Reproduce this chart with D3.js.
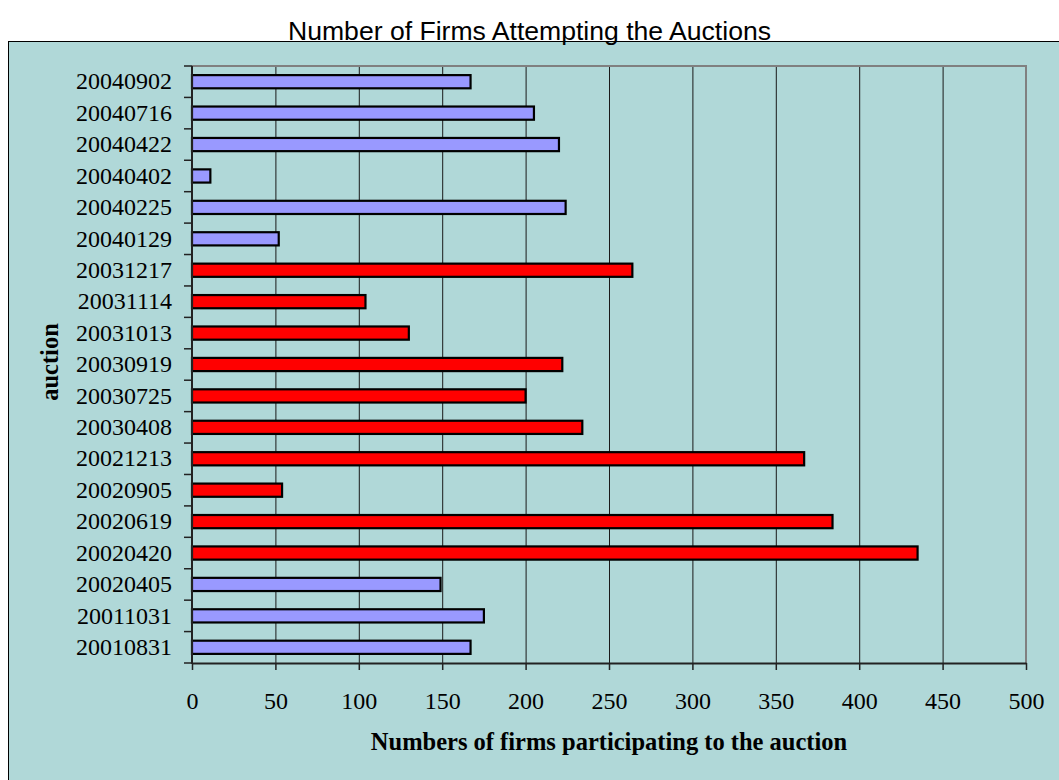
<!DOCTYPE html>
<html>
<head>
<meta charset="utf-8">
<script src="https://cdn.jsdelivr.net/npm/d3@7"></script>
<style>
  html, body { margin: 0; padding: 0; background: #ffffff; }
  svg { display: block; }
</style>
</head>
<body>
<svg id="chart" width="1059" height="780"></svg>
<script>
// Auction dates, listed bottom to top as they appear on the axis
const auctions = [
  "20010831", "20011031", "20020405", "20020420", "20020619", "20020905",
  "20021213", "20030408", "20030725", "20030919", "20031013", "20031114",
  "20031217", "20040129", "20040225", "20040402", "20040422", "20040716",
  "20040902"
];

// Number of firms taking part in each auction
const firms = [
  167, 175, 149, 435, 384, 54,
  367, 234, 200, 222, 130, 104,
  264, 52, 224, 11, 220, 205,
  167
];

// Auctions of the 2002-2003 period, shown in red
const redPeriod = [
  "20020420", "20020619", "20020905", "20021213", "20030408", "20030725",
  "20030919", "20031013", "20031114", "20031217"
];

const xTicks = [0, 50, 100, 150, 200, 250, 300, 350, 400, 450, 500];

const chartTitle = "Number of Firms Attempting the Auctions";
const xTitle = "Numbers of firms participating to the auction";
const yTitle = "auction";

const svg = d3.select("#chart");
const bg = "#b0d8d8";

// Chart area frame
svg.append("rect")
  .attr("x", 8.5).attr("y", 41.5)
  .attr("width", 1100).attr("height", 800)
  .attr("fill", bg)
  .attr("stroke", "#000").attr("stroke-width", 1);

// Title
svg.append("text")
  .attr("x", 529.5).attr("y", 40)
  .attr("text-anchor", "middle")
  .attr("font-family", "'Liberation Sans', Arial, sans-serif")
  .attr("font-size", 26)
  .attr("textLength", 483)
  .attr("lengthAdjust", "spacingAndGlyphs")
  .attr("fill", "#000")
  .text(chartTitle);

const plotLeft = 192, plotRight = 1026, plotTop = 66, plotBottom = 663;

const x = d3.scaleLinear().domain([0, 500]).range([plotLeft, plotRight]);
const y = d3.scaleBand()
  .domain(auctions.slice().reverse())
  .range([plotTop, plotBottom])
  .paddingInner(0.58)
  .paddingOuter(0.29);
const step = y.step();

// Vertical gridlines
svg.append("g")
  .selectAll("line")
  .data(xTicks.filter(d => d > 0 && d < 500))
  .join("line")
  .attr("x1", d => x(d) + 0.5).attr("x2", d => x(d) + 0.5)
  .attr("y1", plotTop).attr("y2", plotBottom)
  .attr("stroke", "#1a1a1a").attr("stroke-width", 1);

// Plot border: top and right edges
svg.append("path")
  .attr("d", `M${plotLeft},${plotTop} H${plotRight} V${plotBottom}`)
  .attr("fill", "none")
  .attr("stroke", "#808080").attr("stroke-width", 2);

// Bars
const data = auctions.map((a, i) => ({ auction: a, value: firms[i] }));
svg.append("g")
  .selectAll("rect")
  .data(data)
  .join("rect")
  .attr("x", x(0))
  .attr("y", d => y(d.auction))
  .attr("width", d => x(d.value) - x(0))
  .attr("height", y.bandwidth())
  .attr("fill", d => redPeriod.includes(d.auction) ? "#ff0000" : "#9999ff")
  .attr("stroke", "#000").attr("stroke-width", 2.2);

// X axis
const xAxis = svg.append("g")
  .attr("transform", `translate(0,${plotBottom})`)
  .call(d3.axisBottom(x).tickValues(xTicks).tickSize(7).tickPadding(22).tickSizeOuter(0));
xAxis.select(".domain").attr("stroke", "#222").attr("stroke-width", 2);
xAxis.selectAll(".tick line").attr("stroke", "#222").attr("stroke-width", 1.5);
xAxis.selectAll(".tick text")
  .attr("font-family", "'Liberation Serif', 'Times New Roman', serif")
  .attr("font-size", 24)
  .attr("fill", "#000");

// Y axis: labels centred on bands, ticks on band boundaries
const yAxis = svg.append("g")
  .attr("transform", `translate(${plotLeft},0)`)
  .call(d3.axisLeft(y).tickSize(0).tickPadding(20).tickSizeOuter(0));
yAxis.select(".domain").remove();
yAxis.selectAll(".tick text")
  .attr("font-family", "'Liberation Serif', 'Times New Roman', serif")
  .attr("font-size", 24)
  .attr("fill", "#000");

const boundaries = d3.range(auctions.length + 1).map(i => plotTop + i * step);
svg.append("g")
  .selectAll("line")
  .data(boundaries)
  .join("line")
  .attr("x1", plotLeft - 8).attr("x2", plotLeft)
  .attr("y1", d => d).attr("y2", d => d)
  .attr("stroke", "#222").attr("stroke-width", 1.5);
svg.append("line")
  .attr("x1", plotLeft).attr("x2", plotLeft)
  .attr("y1", plotTop).attr("y2", plotBottom + 1)
  .attr("stroke", "#222").attr("stroke-width", 2);

// Axis titles
svg.append("text")
  .attr("x", 609).attr("y", 750)
  .attr("text-anchor", "middle")
  .attr("font-family", "'Liberation Serif', 'Times New Roman', serif")
  .attr("font-weight", "bold")
  .attr("font-size", 24.5)
  .attr("fill", "#000")
  .text(xTitle);

svg.append("text")
  .attr("transform", "translate(58,362) rotate(-90)")
  .attr("text-anchor", "middle")
  .attr("font-family", "'Liberation Serif', 'Times New Roman', serif")
  .attr("font-weight", "bold")
  .attr("font-size", 24.5)
  .attr("fill", "#000")
  .text(yTitle);
</script>
</body>
</html>
